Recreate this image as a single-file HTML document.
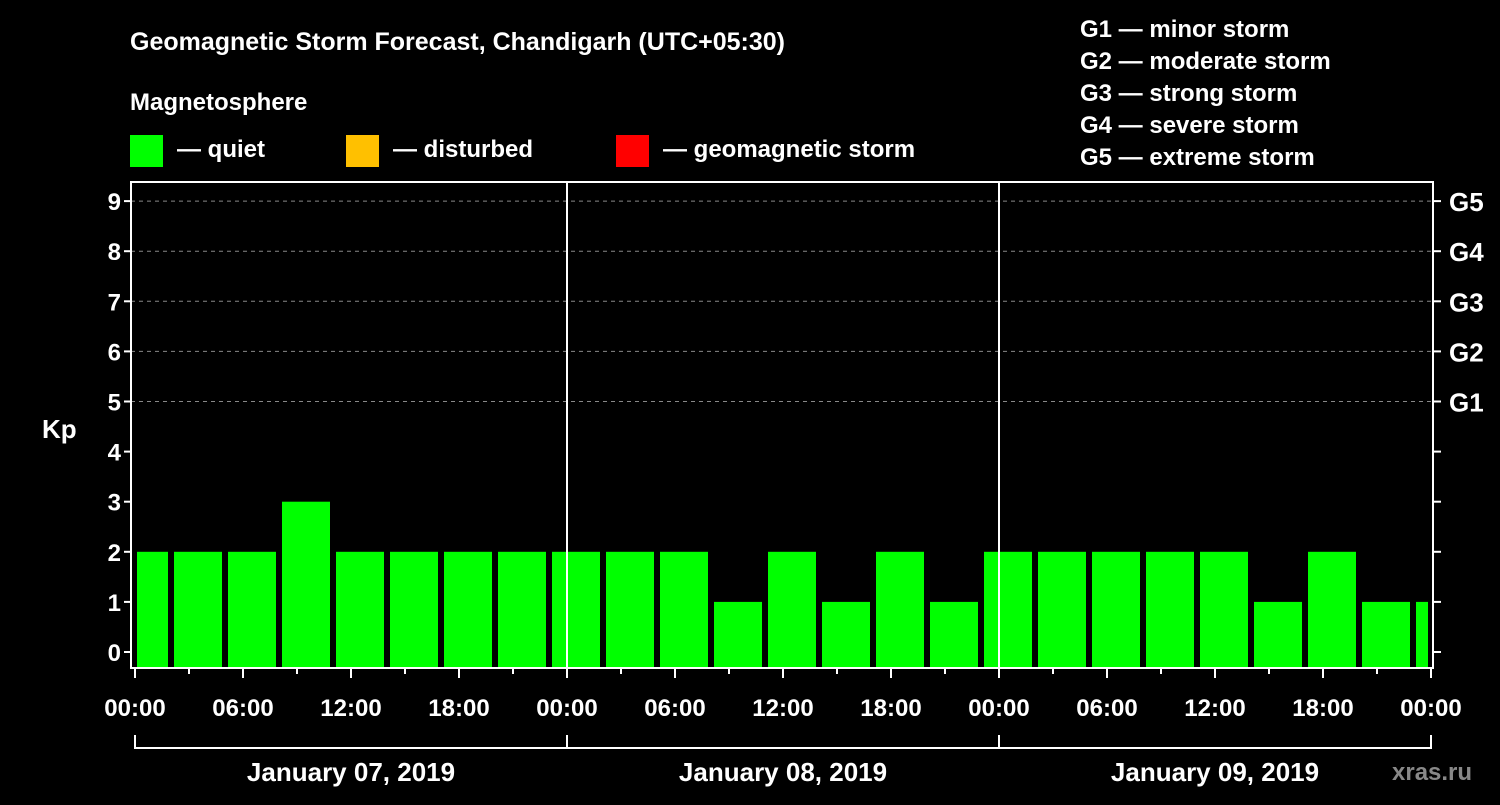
<!DOCTYPE html>
<html><head><meta charset="utf-8"><style>
body{margin:0;background:#000;width:1500px;height:800px;overflow:hidden}
svg text{font-family:"Liberation Sans",sans-serif;font-weight:bold;fill:#fff}
</style></head><body>
<svg id="c" width="1500" height="800">
<text x="130" y="50" font-size="25">Geomagnetic Storm Forecast, Chandigarh (UTC+05:30)</text>
<text x="130" y="110" font-size="24">Magnetosphere</text>
<rect x="130" y="135" width="33" height="32" fill="#00ff00"/>
<text x="177" y="157" font-size="24">— quiet</text>
<rect x="346" y="135" width="33" height="32" fill="#ffc000"/>
<text x="393" y="157" font-size="24">— disturbed</text>
<rect x="616" y="135" width="33" height="32" fill="#ff0000"/>
<text x="663" y="157" font-size="24">— geomagnetic storm</text>
<g font-size="24">
<text x="1080" y="37">G1 — minor storm</text>
<text x="1080" y="69">G2 — moderate storm</text>
<text x="1080" y="101">G3 — strong storm</text>
<text x="1080" y="133">G4 — severe storm</text>
<text x="1080" y="165">G5 — extreme storm</text>
</g>
<text x="42" y="438" font-size="26">Kp</text>
<text x="1392" y="780" font-size="24" fill="#888" style="fill:#888">xras.ru</text>
<g id="plot"></g>
</svg>
<script>
const kpValues=[2,2,2,3,2,2,2,2,2,2,2,1,2,1,2,1,2,2,2,2,2,1,2,1,1];
const yTicks=[0,1,2,3,4,5,6,7,8,9];
const gLabels=["G1","G2","G3","G4","G5"];
const gLevels=[5,6,7,8,9];
const timeLabels=["00:00","06:00","12:00","18:00","00:00","06:00","12:00","18:00","00:00","06:00","12:00","18:00","00:00"];
const dayLabels=["January 07, 2019","January 08, 2019","January 09, 2019"];
const NS="http://www.w3.org/2000/svg";
const X0=135,PXH=18,L=131,R=1433,T=182,B=668;
const xs=h=>X0+h*PXH;
const ys=v=>652-v*50.1;
const g=document.getElementById('plot');
function mk(t,a,txt){const e=document.createElementNS(NS,t);for(const k in a)e.setAttribute(k,a[k]);if(txt!=null)e.textContent=txt;g.appendChild(e);return e;}
yTicks.forEach(v=>{
 if(v>=5){const l=mk('line',{x1:L,x2:R,y1:ys(v),y2:ys(v),stroke:'#888','stroke-dasharray':'4,4'});
 
 }
 const t1=mk('line',{x1:L-7,x2:L,y1:ys(v),y2:ys(v),stroke:'#fff','stroke-width':2});
 
 
 const t2=mk('line',{x1:R,x2:R+8,y1:ys(v),y2:ys(v),stroke:'#fff','stroke-width':2});
 
 
 const tx=mk('text',{x:L-10,y:ys(v)+9,'font-size':24,'text-anchor':'end'},String(v));
 
 
});
gLabels.forEach((s,i)=>{
 const t=mk('text',{x:1449,y:ys(gLevels[i])+10,'font-size':26},s);
 
 
});
kpValues.forEach((v,k)=>{
 const hs=Math.max(0,3*k-1),he=Math.min(72,3*k+2);
 let x1=xs(hs)+(hs===3*k-1?3:2),x2=xs(he)-(he===3*k+2?3:3);
 const c=v>=5?'#ff0000':(v>=4?'#ffc000':'#00ff00');
 const r=mk('rect',{x:x1,y:ys(v),width:x2-x1,height:B-1-ys(v),fill:c});
 
 
});
[1,2].forEach(d=>{const l=mk('line',{x1:xs(24*d),x2:xs(24*d),y1:T,y2:B,stroke:'#fff','stroke-width':2});
 
 });
const f=mk('rect',{x:L,y:T,width:R-L,height:B-T,fill:'none',stroke:'#fff','stroke-width':2});


for(let h=0;h<=72;h+=3){
 const lg=h%6===0;
 const t=mk('line',{x1:xs(h),x2:xs(h),y1:B,y2:B+(lg?10:6),stroke:'#fff','stroke-width':2});
 
 
}
timeLabels.forEach((s,i)=>{
 const t=mk('text',{x:xs(i*6),y:716,'font-size':24,'text-anchor':'middle'},s);
 
 
});
const br=mk('polyline',{points:`${xs(0)},735 ${xs(0)},748 ${xs(72)},748 ${xs(72)},735`,fill:'none',stroke:'#fff','stroke-width':2});


[1,2].forEach(d=>{const l=mk('line',{x1:xs(24*d),x2:xs(24*d),y1:735,y2:748,stroke:'#fff','stroke-width':2});
 
 });
dayLabels.forEach((s,i)=>{
 const t=mk('text',{x:xs(24*i+12),y:781,'font-size':26,'text-anchor':'middle'},s);
 
 
});
</script>
</body></html>
